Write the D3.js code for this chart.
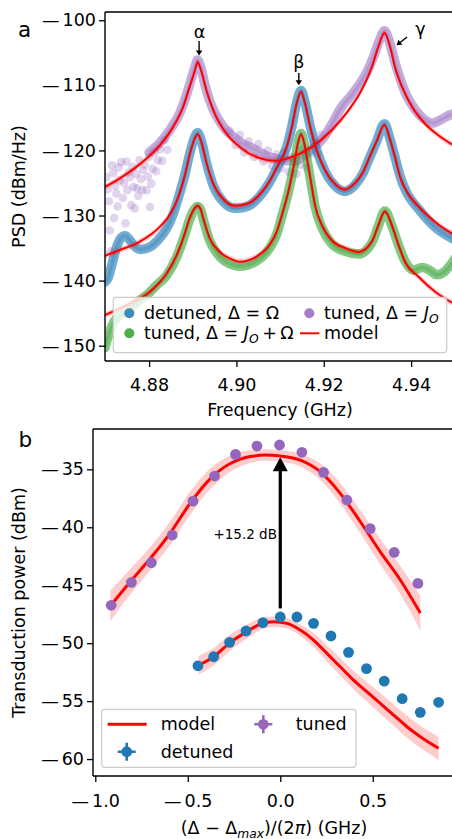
<!DOCTYPE html>
<html>
<head>
<meta charset="utf-8">
<script src="https://cdn.jsdelivr.net/npm/d3@7"></script>
<style>
  body { margin: 0; background: #fff; }
  text { font-family: "DejaVu Sans", sans-serif; fill: #000; }
</style>
</head>
<body>
<div id="chart"></div>
<script>
// ---------------- panel a: PSD data (GHz, dBm/Hz) ----------------
const detunedFreq = [4.8699, 4.8706, 4.8715, 4.8725, 4.8735, 4.8745, 4.8755, 4.8765, 4.8780, 4.8800, 4.8820, 4.8840,
  4.8855, 4.8870, 4.8882, 4.8893, 4.8903, 4.8911, 4.8920, 4.8931, 4.8947, 4.8970, 4.8997, 4.9025, 4.9050, 4.9075,
  4.9095, 4.9115, 4.9127, 4.9138, 4.9148, 4.9157, 4.9169, 4.9184, 4.9203, 4.9225, 4.9248, 4.9270, 4.9290, 4.9305,
  4.9321, 4.9339, 4.9352, 4.9363, 4.9375, 4.9390, 4.9417, 4.9455, 4.9502];
const detunedPSD = [-140.2, -139.6, -137.5, -135.0, -133.5, -133.1, -133.7, -134.6, -135.2, -134.9, -133.8, -132.0,
  -129.8, -126.6, -123.7, -120.5, -118.2, -117.3, -118.6, -121.8, -125.4, -127.9, -128.9, -128.6, -127.3, -125.0,
  -122.4, -119.5, -116.3, -112.6, -110.8, -112.6, -116.3, -120.0, -123.2, -125.4, -126.3, -125.4, -123.5, -121.1,
  -118.6, -115.9, -118.3, -121.0, -124.0, -126.5, -129.0, -131.8, -133.8];

const tunedFreq = [4.8800, 4.8825, 4.8850, 4.8870, 4.8885, 4.8897, 4.8905, 4.8911, 4.8918, 4.8928, 4.8940, 4.8955,
  4.8975, 4.8995, 4.9015, 4.9035, 4.9055, 4.9075, 4.9095, 4.9115, 4.9135, 4.9150, 4.9165, 4.9180, 4.9200, 4.9220,
  4.9240, 4.9260, 4.9280, 4.9300, 4.9315, 4.9328, 4.9339, 4.9350, 4.9362, 4.9375, 4.9390, 4.9410, 4.9430, 4.9450,
  4.9470, 4.9490, 4.9502];
const tunedPSD = [-120.3, -118.8, -116.6, -114.3, -111.6, -108.9, -107.2, -106.1, -107.1, -109.9, -112.6, -114.8,
  -116.8, -118.0, -119.0, -119.6, -120.3, -121.0, -121.3, -121.6, -121.6, -121.0, -120.2, -119.4, -118.0, -115.8,
  -113.4, -111.8, -110.0, -107.8, -105.4, -103.0, -101.6, -103.2, -106.2, -109.0, -111.6, -113.8, -115.2, -115.8,
  -115.2, -114.5, -114.2];
// noisy tuned points (off the main trace)
const tunedNoiseFreq = [4.8702, 4.8705, 4.8708, 4.8710, 4.8712, 4.8715, 4.8718, 4.8720, 4.8722, 4.8725, 4.8728,
  4.8730, 4.8733, 4.8736, 4.8740, 4.8743, 4.8746, 4.8748, 4.8750, 4.8753, 4.8756, 4.8759, 4.8762, 4.8764, 4.8767,
  4.8770, 4.8772, 4.8775, 4.8778, 4.8781, 4.8784, 4.8786, 4.8790, 4.8794, 4.8797, 4.8800, 4.8802, 4.8805, 4.8808,
  4.8812, 4.8816, 4.8820, 4.8825, 4.8830, 4.8836, 4.8842,
  4.8985, 4.8998, 4.9008, 4.9018, 4.9028, 4.9040, 4.9050, 4.9062, 4.9072, 4.9082, 4.9092, 4.9102, 4.9110, 4.9120,
  4.9128, 4.9137, 4.9145, 4.9152, 4.9160, 4.9168, 4.9177, 4.9186, 4.9194];
const tunedNoisePSD = [-124.1, -126.0, -127.8, -132.3, -135.5, -122.3, -123.5, -130.4, -125.4, -126.6, -128.6,
  -122.6, -124.6, -121.8, -127.3, -125.0, -131.2, -121.7, -126.1, -123.4, -124.1, -128.4, -122.5, -125.6, -128.9,
  -123.6, -125.8, -127.0, -121.5, -124.4, -126.1, -123.0, -122.2, -126.1, -124.0, -121.0, -128.7, -125.1, -122.8,
  -120.3, -123.2, -121.5, -119.8, -121.6, -118.4, -119.9,
  -117.0, -119.2, -117.6, -120.3, -118.6, -121.0, -119.0, -121.7, -120.0, -122.4, -120.6, -122.8, -120.2, -123.3,
  -121.0, -123.6, -122.2, -119.8, -122.6, -120.6, -118.8, -120.5, -117.6];

const tunedOmegaFreq = [4.8699, 4.8710, 4.8720, 4.8735, 4.8755, 4.8775, 4.8795, 4.8817, 4.8840, 4.8863, 4.8878,
  4.8893, 4.8903, 4.8911, 4.8918, 4.8924, 4.8939, 4.8962, 4.8992, 4.9008, 4.9046, 4.9076, 4.9092, 4.9105, 4.9120,
  4.9133, 4.9141, 4.9148, 4.9155, 4.9163, 4.9172, 4.9180, 4.9196, 4.9218, 4.9249, 4.9280, 4.9310, 4.9325, 4.9340,
  4.9356, 4.9371, 4.9386, 4.9405, 4.9425, 4.9440, 4.9460, 4.9475, 4.9490, 4.9502];
const tunedOmegaPSD = [-150.3, -147.8, -146.3, -145.2, -144.4, -143.2, -142.2, -140.7, -139.2, -136.4, -133.7,
  -130.6, -129.1, -128.6, -129.1, -130.6, -133.9, -136.3, -137.6, -137.8, -137.0, -135.0, -132.9, -129.9, -126.1,
  -121.9, -118.9, -117.4, -118.9, -121.9, -125.5, -128.6, -131.9, -134.3, -135.5, -135.9, -134.2, -131.6, -129.3,
  -131.6, -134.5, -137.0, -138.4, -138.0, -138.3, -139.1, -138.7, -137.6, -136.5];

// panel a: model curves
const detunedModelFreq = [4.8699, 4.8733, 4.8779, 4.8825, 4.8850, 4.8866, 4.8882, 4.8893, 4.8903, 4.8911, 4.8920,
  4.8931, 4.8947, 4.8970, 4.8997, 4.9025, 4.9050, 4.9075, 4.9095, 4.9115, 4.9127, 4.9138, 4.9148, 4.9157, 4.9169,
  4.9184, 4.9203, 4.9225, 4.9248, 4.9270, 4.9290, 4.9305, 4.9321, 4.9339, 4.9352, 4.9363, 4.9375, 4.9390, 4.9417,
  4.9455, 4.9502];
const detunedModelPSD = [-136.2, -135.3, -134.0, -131.7, -129.6, -127.3, -123.8, -120.6, -118.4, -117.5, -118.8,
  -121.8, -125.1, -127.5, -128.5, -128.2, -127.0, -124.8, -122.3, -119.5, -116.4, -112.8, -111.0, -112.8, -116.4,
  -120.0, -123.0, -125.1, -126.0, -125.1, -123.3, -121.0, -118.6, -116.1, -118.4, -121.0, -124.1, -126.3, -128.6,
  -131.0, -133.1];
const tunedModelFreq = [4.8699, 4.8733, 4.8779, 4.8825, 4.8855, 4.8878, 4.8893, 4.8905, 4.8911, 4.8920, 4.8931,
  4.8950, 4.8977, 4.9008, 4.9054, 4.9090, 4.9127, 4.9173, 4.9218, 4.9257, 4.9287, 4.9310, 4.9325, 4.9339, 4.9352,
  4.9363, 4.9379, 4.9402, 4.9432, 4.9463, 4.9502];
const tunedModelPSD = [-125.6, -124.3, -122.1, -119.2, -116.4, -113.3, -110.2, -107.7, -106.4, -107.9, -110.7,
  -114.3, -117.4, -119.5, -121.2, -121.6, -121.0, -119.45, -116.9, -113.8, -110.7, -107.2, -104.1, -101.95, -104.1,
  -107.2, -110.2, -113.3, -115.9, -117.7, -119.4];
const tunedOmegaModelFreq = [4.8699, 4.8756, 4.8802, 4.8840, 4.8863, 4.8878, 4.8893, 4.8903, 4.8911, 4.8918,
  4.8924, 4.8939, 4.8962, 4.8992, 4.9008, 4.9046, 4.9076, 4.9092, 4.9105, 4.9120, 4.9133, 4.9141, 4.9148, 4.9155,
  4.9163, 4.9172, 4.9180, 4.9196, 4.9218, 4.9249, 4.9280, 4.9310, 4.9325, 4.9340, 4.9356, 4.9371, 4.9386, 4.9417,
  4.9455, 4.9502];
const tunedOmegaModelPSD = [-145.3, -143.5, -141.7, -138.9, -136.1, -133.5, -130.4, -129.0, -128.5, -129.0, -130.4,
  -133.5, -135.6, -136.8, -137.1, -136.3, -134.5, -132.5, -129.7, -126.0, -121.8, -118.8, -117.5, -118.8, -121.8,
  -125.3, -128.4, -131.5, -133.8, -135.0, -135.6, -134.0, -131.5, -129.4, -131.5, -134.5, -137.1, -139.4, -141.7,
  -143.7];
const modelBandA = 0.45; // dB, half width of the model confidence band

const psdTicksX = [4.88, 4.90, 4.92, 4.94];
const psdTicksY = [-150, -140, -130, -120, -110, -100];

// ---------------- panel b: transduction power ----------------
const tunedDelta = [-0.914, -0.805, -0.697, -0.584, -0.472, -0.355, -0.242, -0.126, -0.004, 0.117, 0.234, 0.360,
  0.486, 0.616, 0.744];
const tunedPower = [-46.73, -44.75, -43.06, -40.67, -37.74, -35.58, -33.71, -32.99, -32.90, -33.53, -35.26, -37.65,
  -40.12, -42.16, -44.84];
const detunedDelta = [-0.445, -0.360, -0.274, -0.185, -0.094, 0.000, 0.090, 0.180, 0.274, 0.369, 0.466, 0.562,
  0.659, 0.757, 0.856];
const detunedPower = [-51.95, -51.17, -49.93, -48.95, -48.23, -47.74, -47.74, -48.29, -49.38, -50.79, -52.20,
  -53.27, -54.79, -55.97, -55.10];

const modelTunedDelta = [-0.919, -0.811, -0.703, -0.595, -0.486, -0.378, -0.270, -0.162, -0.080, 0.000, 0.108,
  0.216, 0.324, 0.432, 0.540, 0.649, 0.757];
const modelTunedPower = [-46.8, -44.7, -42.7, -40.5, -37.9, -35.8, -34.5, -33.9, -33.77, -33.85, -34.2, -35.2,
  -37.07, -39.5, -42.1, -44.55, -47.4];
const modelTunedErr = [1.3, 1.1, 1.0, 1.0, 1.0, 0.9, 0.7, 0.55, 0.5, 0.5, 0.55, 0.7, 0.9, 1.0, 1.1, 1.2, 1.5];
const modelDetunedDelta = [-0.441, -0.360, -0.270, -0.180, -0.099, -0.036, 0.036, 0.108, 0.180, 0.252, 0.324,
  0.396, 0.468, 0.541, 0.613, 0.685, 0.757, 0.856];
const modelDetunedPower = [-51.9, -51.17, -49.93, -49.0, -48.3, -48.15, -48.29, -48.87, -49.73, -50.88, -52.03,
  -53.18, -54.19, -55.2, -56.2, -57.21, -58.07, -59.07];
const modelDetunedErr = [0.8, 0.75, 0.7, 0.6, 0.5, 0.45, 0.45, 0.5, 0.6, 0.7, 0.75, 0.8, 0.85, 0.9, 0.9, 0.95,
  0.95, 1.0];
const gainLabel = "+15.2 dB";

const powTicksX = [-1.0, -0.5, 0.0, 0.5];
const powTicksY = [-60, -55, -50, -45, -40, -35];

// ---------------- drawing ----------------
const FS = 17.5;
const C = {blue: "#1f77b4", purple: "#9467bd", green: "#2ca02c", red: "#ff0000"};
const zip = (xs, ys, es) => xs.map((x, i) => ({x: x, y: ys[i], e: es ? es[i] : 0}));

const svg = d3.select("#chart").append("svg")
  .attr("width", 452).attr("height", 839);

function styleAxis(g) {
  g.selectAll("path.domain").remove();
  g.selectAll(".tick line").attr("stroke", "#000").attr("stroke-width", 1.3);
  g.selectAll(".tick text").attr("font-size", FS).attr("font-family", "DejaVu Sans").attr("fill", "#000")
    .each(function () {
      // long minus sign like the original tick labels
      const t = d3.select(this), s = t.text();
      if (s.startsWith("−")) {
        t.text(null);
        t.append("tspan").text("—");
        t.append("tspan").attr("dx", 3).text(s.slice(1));
      }
    });
}

function frame(g, x0, x1, y0, y1) {
  g.append("path")
    .attr("d", `M${x0},${y0}V${y1}M${x0},${y1}H${x1 + 2}M${x0},${y0}H${x1 + 2}`)
    .attr("fill", "none").attr("stroke", "#000").attr("stroke-width", 1.4);
}

// ===== panel a =====
const xa = d3.scaleLinear().domain([4.8699, 4.9501]).range([105, 455.2]);
const ya = d3.scaleLinear().domain([-152.35, -98.73]).range([361, 12]);

const ga = svg.append("g");
ga.append("defs").append("clipPath").attr("id", "clip-a")
  .append("rect").attr("x", 105).attr("y", 12).attr("width", 350).attr("height", 349);
const plotA = ga.append("g").attr("clip-path", "url(#clip-a)");

const lineA = d3.line().curve(d3.curveMonotoneX).x(d => xa(d.x)).y(d => ya(d.y));
const bandA = d3.area().curve(d3.curveMonotoneX).x(d => xa(d.x))
  .y0(d => ya(d.y - modelBandA)).y1(d => ya(d.y + modelBandA));

const dataSeries = [
  {pts: zip(tunedFreq, tunedPSD), color: C.purple, op: 0.55},
  {pts: zip(detunedFreq, detunedPSD), color: C.blue, op: 0.62},
  {pts: zip(tunedOmegaFreq, tunedOmegaPSD), color: C.green, op: 0.58}
];

// scattered tuned points
plotA.append("g").selectAll("circle")
  .data(zip(tunedNoiseFreq, tunedNoisePSD))
  .join("circle")
  .attr("cx", d => xa(d.x)).attr("cy", d => ya(d.y)).attr("r", 4.3)
  .attr("fill", C.purple).attr("fill-opacity", 0.28);

dataSeries.forEach(s => {
  plotA.append("path").datum(s.pts).attr("d", lineA)
    .attr("fill", "none").attr("stroke", s.color).attr("stroke-opacity", s.op)
    .attr("stroke-width", 9.5).attr("stroke-linecap", "round").attr("stroke-linejoin", "round");
  plotA.append("path").datum(s.pts).attr("d", lineA)
    .attr("fill", "none").attr("stroke", s.color).attr("stroke-opacity", 0.3)
    .attr("stroke-width", 3.5);
});

const modelsA = [
  zip(tunedModelFreq, tunedModelPSD),
  zip(detunedModelFreq, detunedModelPSD),
  zip(tunedOmegaModelFreq, tunedOmegaModelPSD)
];
modelsA.forEach(m => {
  plotA.append("path").datum(m).attr("d", bandA)
    .attr("fill", C.red).attr("fill-opacity", 0.2);
});
modelsA.forEach(m => {
  plotA.append("path").datum(m).attr("d", lineA)
    .attr("fill", "none").attr("stroke", C.red).attr("stroke-width", 2);
});

// peak labels
function peakLabel(label, tx, ty, ax0, ay0, ax1, ay1) {
  ga.append("text").attr("x", xa(tx)).attr("y", ya(ty))
    .attr("text-anchor", "middle").attr("font-size", FS).text(label);
  const x0 = xa(ax0), y0 = ya(ay0), x1 = xa(ax1), y1 = ya(ay1);
  const ang = Math.atan2(y1 - y0, x1 - x0), L = 5, W = 3.2;
  ga.append("line").attr("x1", x0).attr("y1", y0)
    .attr("x2", x1 - Math.cos(ang) * 2).attr("y2", y1 - Math.sin(ang) * 2)
    .attr("stroke", "#000").attr("stroke-width", 1.4);
  const bx = x1 - Math.cos(ang) * L, by = y1 - Math.sin(ang) * L;
  ga.append("path")
    .attr("d", `M${x1},${y1}L${bx - Math.sin(ang) * W},${by + Math.cos(ang) * W}L${bx + Math.sin(ang) * W},${by - Math.cos(ang) * W}Z`)
    .attr("fill", "#000");
}
peakLabel("α", 4.89154, -102.76, 4.89145, -103.2, 4.89145, -105.4);
peakLabel("β", 4.91428, -107.4, 4.91428, -108.1, 4.91428, -110.0);
peakLabel("γ", 4.94216, -102.24, 4.93909, -102.56, 4.93666, -103.84);

// axes a
ga.append("g").attr("transform", "translate(0,361)")
  .call(d3.axisBottom(xa).tickValues(psdTicksX).tickFormat(d3.format(".2f")).tickSize(6).tickPadding(12))
  .call(styleAxis);
ga.append("g").attr("transform", "translate(105,0)")
  .call(d3.axisLeft(ya).tickValues(psdTicksY).tickSize(6).tickPadding(3))
  .call(styleAxis);
frame(ga, 105, 455, 12, 361);

ga.append("text").attr("x", 280).attr("y", 416).attr("text-anchor", "middle")
  .attr("font-size", FS).text("Frequency (GHz)");
ga.append("text").attr("transform", "translate(25,186.5) rotate(-90)").attr("text-anchor", "middle")
  .attr("font-size", FS).text("PSD (dBm/Hz)");
ga.append("text").attr("x", 18).attr("y", 37).attr("font-size", 21.5).text("a");

// legend a
const legA = ga.append("g");
legA.append("rect").attr("x", 113.3).attr("y", 297.3).attr("width", 333.4).attr("height", 55.4)
  .attr("rx", 3).attr("fill", "#fff").attr("fill-opacity", 0.8)
  .attr("stroke", "#cccccc").attr("stroke-width", 1.2);
function legText(g, x, y, parts) {
  const t = g.append("text").attr("x", x).attr("y", y + 6).attr("font-size", FS);
  parts.forEach(p => {
    const s = t.append("tspan").text(p.t);
    if (p.it) s.attr("font-style", "italic");
    if (p.sub) s.attr("font-size", FS * 0.7).attr("dy", 3.5);
    if (p.up) s.attr("dy", -3.5);
  });
}
[[129.3, 313.3, C.blue], [129.3, 333.3, C.green], [309.3, 313.3, C.purple]].forEach(m => {
  legA.append("circle").attr("cx", m[0]).attr("cy", m[1]).attr("r", 5)
    .attr("fill", m[2]).attr("fill-opacity", 0.85);
});
legA.append("line").attr("x1", 300).attr("x2", 319.3).attr("y1", 333.3).attr("y2", 333.3)
  .attr("stroke", C.red).attr("stroke-width", 2);
legText(legA, 144, 313.3, [{t: "detuned, Δ = Ω"}]);
legText(legA, 144, 333.3, [{t: "tuned, Δ = "}, {t: "J", it: true}, {t: "O", it: true, sub: true},
  {t: "\u2009+\u2009Ω", up: true}]);
legText(legA, 324, 313.3, [{t: "tuned, Δ = "}, {t: "J", it: true}, {t: "O", it: true, sub: true}]);
legText(legA, 324, 333.3, [{t: "model"}]);

// ===== panel b =====
const xb = d3.scaleLinear().domain([-1.0124, 0.95]).range([93, 456]);
const yb = d3.scaleLinear().domain([-61.46, -31.52]).range([776, 429]);

const gb = svg.append("g");
gb.append("defs").append("clipPath").attr("id", "clip-b")
  .append("rect").attr("x", 93).attr("y", 429).attr("width", 362).attr("height", 347);
const plotB = gb.append("g").attr("clip-path", "url(#clip-b)");

const lineB = d3.line().curve(d3.curveMonotoneX).x(d => xb(d.x)).y(d => yb(d.y));
const bandB = d3.area().curve(d3.curveMonotoneX).x(d => xb(d.x))
  .y0(d => yb(d.y - d.e)).y1(d => yb(d.y + d.e));

const modelsB = [
  zip(modelTunedDelta, modelTunedPower, modelTunedErr),
  zip(modelDetunedDelta, modelDetunedPower, modelDetunedErr)
];
modelsB.forEach(m => {
  plotB.append("path").datum(m).attr("d", bandB).attr("fill", C.red).attr("fill-opacity", 0.2);
});
modelsB.forEach(m => {
  plotB.append("path").datum(m).attr("d", lineB).attr("fill", "none")
    .attr("stroke", C.red).attr("stroke-width", 3);
});

[[zip(tunedDelta, tunedPower), C.purple], [zip(detunedDelta, detunedPower), C.blue]].forEach(s => {
  plotB.append("g").selectAll("circle").data(s[0]).join("circle")
    .attr("cx", d => xb(d.x)).attr("cy", d => yb(d.y)).attr("r", 5.4).attr("fill", s[1]);
});

// gain arrow
const ax = xb(0), ayTail = yb(-47.0), ayTip = yb(-33.95);
plotB.append("line").attr("x1", ax).attr("x2", ax).attr("y1", ayTail).attr("y2", ayTip + 12)
  .attr("stroke", "#000").attr("stroke-width", 3.2);
plotB.append("path").attr("d", `M${ax},${ayTip}L${ax - 7.5},${ayTip + 14}L${ax + 7.5},${ayTip + 14}Z`)
  .attr("fill", "#000");
gb.append("text").attr("x", xb(-0.018)).attr("y", yb(-41.04)).attr("text-anchor", "end")
  .attr("font-size", 13.5).text(gainLabel);

// axes b
gb.append("g").attr("transform", "translate(0,776)")
  .call(d3.axisBottom(xb).tickValues(powTicksX).tickFormat(d3.format(".1f")).tickSize(6).tickPadding(13))
  .call(styleAxis);
gb.append("g").attr("transform", "translate(93,0)")
  .call(d3.axisLeft(yb).tickValues(powTicksY).tickSize(6).tickPadding(3))
  .call(styleAxis);
frame(gb, 93, 455, 429, 776);

const xl = gb.append("text").attr("x", 274).attr("y", 834).attr("text-anchor", "middle").attr("font-size", FS);
xl.append("tspan").text("(Δ − Δ");
xl.append("tspan").attr("font-style", "italic").attr("font-size", FS * 0.7).attr("dy", 3.5).text("max");
xl.append("tspan").attr("dy", -3.5).text(")/(2");
xl.append("tspan").attr("font-style", "italic").text("π");
xl.append("tspan").text(") (GHz)");
gb.append("text").attr("transform", "translate(25,602.5) rotate(-90)").attr("text-anchor", "middle")
  .attr("font-size", FS).text("Transduction power (dBm)");
gb.append("text").attr("x", 18.5).attr("y", 446.7).attr("font-size", 21.5).text("b");

// legend b
const legB = gb.append("g");
legB.append("rect").attr("x", 101.7).attr("y", 709.3).attr("width", 254.3).attr("height", 58)
  .attr("rx", 3).attr("fill", "#fff").attr("fill-opacity", 0.8)
  .attr("stroke", "#cccccc").attr("stroke-width", 1.2);
legB.append("line").attr("x1", 107.7).attr("x2", 146.7).attr("y1", 724.3).attr("y2", 724.3)
  .attr("stroke", C.red).attr("stroke-width", 3);
[[263.3, 724.3, C.purple], [126.7, 751.7, C.blue]].forEach(m => {
  legB.append("path").attr("d", `M${m[0] - 9},${m[1]}H${m[0] + 9}M${m[0]},${m[1] - 9}V${m[1] + 9}`)
    .attr("stroke", m[2]).attr("stroke-width", 2.6);
  legB.append("circle").attr("cx", m[0]).attr("cy", m[1]).attr("r", 5.4).attr("fill", m[2]);
});
legText(legB, 160.7, 724.3, [{t: "model"}]);
legText(legB, 295.7, 724.3, [{t: "tuned"}]);
legText(legB, 160.7, 751.7, [{t: "detuned"}]);
</script>
</body>
</html>
